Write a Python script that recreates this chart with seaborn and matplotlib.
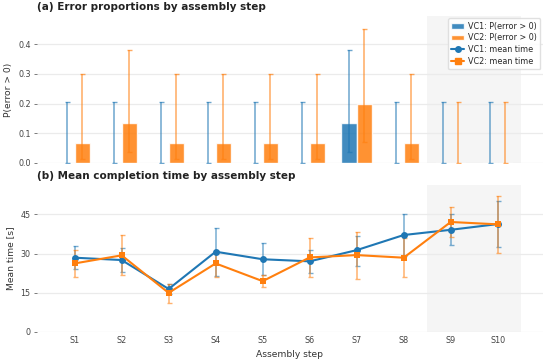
import numpy as np
import pandas as pd
import matplotlib
matplotlib.use("Agg")
import matplotlib.pyplot as plt
import seaborn as sns
from matplotlib.patches import Patch
from matplotlib.lines import Line2D

steps = ["S1", "S2", "S3", "S4", "S5", "S6", "S7", "S8", "S9", "S10"]
shaded_steps = ["S9", "S10"]

vc1_p = [0.0, 0.0, 0.0, 0.0, 0.0, 0.0, 0.133, 0.0, 0.0, 0.0]
vc1_p_lo = [0.0, 0.0, 0.0, 0.0, 0.0, 0.0, 0.037, 0.0, 0.0, 0.0]
vc1_p_hi = [0.204, 0.204, 0.204, 0.204, 0.204, 0.204, 0.379, 0.204, 0.204, 0.204]

vc2_p = [0.067, 0.133, 0.067, 0.067, 0.067, 0.067, 0.2, 0.067, 0.0, 0.0]
vc2_p_lo = [0.012, 0.037, 0.012, 0.012, 0.012, 0.012, 0.070, 0.012, 0.0, 0.0]
vc2_p_hi = [0.298, 0.379, 0.298, 0.298, 0.298, 0.298, 0.452, 0.298, 0.204, 0.204]

vc1_t = [28.4, 27.5, 16.4, 30.7, 27.8, 27.0, 31.3, 37.1, 39.1, 41.3]
vc1_t_lo = [24.0, 22.8, 14.6, 21.5, 21.7, 22.4, 25.3, 29.0, 33.3, 32.6]
vc1_t_hi = [33.0, 32.2, 18.2, 39.8, 33.9, 31.4, 36.7, 45.0, 45.0, 50.0]

vc2_t = [26.2, 29.3, 14.9, 26.2, 19.4, 28.5, 29.4, 28.4, 42.1, 41.2]
vc2_t_lo = [21.1, 21.7, 11.2, 20.9, 17.2, 21.1, 20.3, 21.0, 36.5, 30.2]
vc2_t_hi = [31.4, 37.0, 18.3, 31.0, 21.7, 35.8, 38.4, 35.8, 47.7, 52.2]

C1 = "#1f77b4"
C2 = "#ff7f0e"

sns.set_theme(style="whitegrid")
plt.rcParams.update({
    "font.family": ["DejaVu Sans"],
    "axes.grid.axis": "y",
    "grid.color": "#ebebeb",
    "grid.linewidth": 0.9,
    "ytick.left": True,
    "ytick.major.size": 2.5,
    "ytick.major.width": 0.6,
    "ytick.color": "#666666",
    "ytick.labelcolor": "#444444",
    "xtick.major.size": 0,
    "xtick.color": "#444444",
    "ytick.labelsize": 5.8,
    "xtick.labelsize": 5.8,
    "axes.labelsize": 6.6,
    "axes.labelcolor": "#333333",
})

fig = plt.figure(figsize=(5.5, 3.63), dpi=100)
ax1 = fig.add_axes([0.0673, 0.551, 0.9197, 0.405])
ax2 = fig.add_axes([0.0673, 0.0862, 0.9197, 0.4042], sharex=ax1)

# ---- top: bars
df_p = pd.DataFrame({
    "step": steps * 2,
    "p": vc1_p + vc2_p,
    "group": ["VC1"] * len(steps) + ["VC2"] * len(steps),
})
sns.barplot(data=df_p, x="step", y="p", hue="group", order=steps,
            palette=[C1, C2], width=0.66, saturation=1, alpha=0.85,
            errorbar=None, legend=False, ax=ax1, zorder=2)

x = np.arange(len(steps))
off = 0.165
for xs, p, lo, hi, c in [(x - off, vc1_p, vc1_p_lo, vc1_p_hi, C1),
                          (x + off, vc2_p, vc2_p_lo, vc2_p_hi, C2)]:
    p = np.array(p)
    ax1.errorbar(xs, p, yerr=[p - np.array(lo), np.array(hi) - p],
                 fmt="none", ecolor=c, alpha=0.65, elinewidth=1.1,
                 capsize=1.8, capthick=1.0, zorder=3)

# ---- bottom: lines
df_t = pd.DataFrame({
    "step": steps * 2,
    "t": vc1_t + vc2_t,
    "group": ["VC1"] * len(steps) + ["VC2"] * len(steps),
})
for g, vals, lo, hi, c, m in [("VC1", vc1_t, vc1_t_lo, vc1_t_hi, C1, "o"),
                              ("VC2", vc2_t, vc2_t_lo, vc2_t_hi, C2, "s")]:
    v = np.array(vals)
    ax2.errorbar(x, v, yerr=[v - np.array(lo), np.array(hi) - v],
                 fmt="none", ecolor=c, alpha=0.6, elinewidth=1.1,
                 capsize=1.8, capthick=1.0, zorder=3)
    sub = df_t[df_t["group"] == g]
    sns.lineplot(x=np.arange(len(steps)), y=sub["t"].values, color=c,
                 marker=m, markersize=5, markeredgewidth=0, linewidth=1.5,
                 ax=ax2, zorder=4)

for ax in (ax1, ax2):
    for s in shaded_steps:
        i = steps.index(s)
        ax.axvspan(i - 0.5, i + 0.5, color="#f4f4f4", alpha=0.85, lw=0, zorder=0)
    for sp in ax.spines.values():
        sp.set_visible(False)
    ax.set_xlim(-0.8, 9.96)
    ax.tick_params(axis="y", left=True, length=2.5, width=0.6, pad=2)
    ax.tick_params(axis="x", pad=3)

ax1.set_ylim(0, 0.495)
ax1.set_yticks([0.0, 0.1, 0.2, 0.3, 0.4])
ax1.set_ylabel("P(error > 0)", labelpad=4)
ax1.set_xlabel("")
ax1.tick_params(axis="x", labelbottom=False)
ax1.set_title("(a) Error proportions by assembly step", loc="left",
              fontsize=7.5, fontweight="bold", pad=4, color="#222222")

ax2.set_ylim(0, 56.3)
ax2.set_yticks([0, 15, 30, 45])
ax2.set_xticks(x)
ax2.set_xticklabels(steps)
ax2.set_ylabel("Mean time [s]", labelpad=4)
ax2.set_xlabel("Assembly step", labelpad=4)
ax2.set_title("(b) Mean completion time by assembly step", loc="left",
              fontsize=7.5, fontweight="bold", pad=4, color="#222222")

handles = [
    Patch(facecolor=C1, alpha=0.85, label="VC1: P(error > 0)"),
    Patch(facecolor=C2, alpha=0.85, label="VC2: P(error > 0)"),
    Line2D([], [], color=C1, marker="o", markersize=4, lw=1.5, label="VC1: mean time"),
    Line2D([], [], color=C2, marker="s", markersize=4, lw=1.5, label="VC2: mean time"),
]
ax1.legend(handles=handles, loc="upper right", fontsize=5.8, frameon=True,
           framealpha=0.9, edgecolor="#dddddd", borderaxespad=0.3,
           handlelength=1.6, handletextpad=0.5, labelspacing=0.35,
           borderpad=0.4)

fig.savefig("out.png", dpi=100)
